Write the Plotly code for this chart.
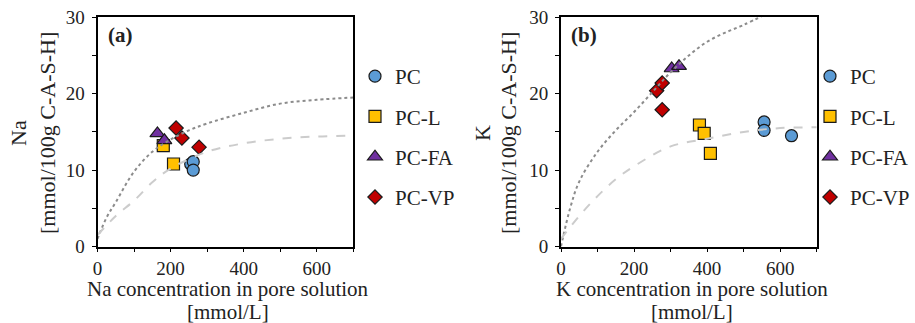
import plotly.graph_objects as go

# ---- measured sorption data: (a) Na, (b) K ----
series = ["PC", "PC-L", "PC-FA", "PC-VP"]
colors = ["#5B9BD5", "#FFC000", "#7030A0", "#C00000"]
symbols = ["circle", "square", "triangle-up", "diamond"]
sizes = [12, 12, 13, 11]

na_x = {
    "PC": [255, 262, 262],
    "PC-L": [180, 208],
    "PC-FA": [164, 183],
    "PC-VP": [215, 231, 278],
}
na_y = {
    "PC": [10.8, 11.1, 10.0],
    "PC-L": [13.2, 10.8],
    "PC-FA": [14.8, 13.9],
    "PC-VP": [15.5, 14.2, 13.0],
}
k_x = {
    "PC": [556, 556, 631],
    "PC-L": [379, 392, 409],
    "PC-FA": [303, 323],
    "PC-VP": [262, 277, 277],
}
k_y = {
    "PC": [16.3, 15.2, 14.5],
    "PC-L": [15.9, 14.8, 12.2],
    "PC-FA": [23.3, 23.6],
    "PC-VP": [20.4, 21.4, 17.9],
}

# ---- fitted isotherm curves ----
na_dot_x = [0, 25, 50, 100, 150, 200, 250, 300, 400, 500, 600, 700]
na_dot_y = [1.0, 3.8, 5.8, 9.8, 12.4, 14.0, 15.2, 16.1, 17.5, 18.7, 19.2, 19.5]
na_dash_x = [0, 50, 100, 150, 200, 300, 400, 500, 600, 700]
na_dash_y = [1.5, 4.0, 6.0, 8.4, 10.2, 12.4, 13.5, 14.1, 14.4, 14.5]
k_dot_x = [0, 25, 50, 100, 150, 200, 250, 300, 350, 400, 450, 500, 560]
k_dot_y = [0.0, 5.0, 8.5, 12.4, 15.2, 17.6, 20.2, 22.8, 25.0, 26.8, 28.0, 29.0, 30.4]
k_dash_x = [0, 50, 100, 150, 200, 300, 400, 500, 600, 700]
k_dash_y = [1.0, 4.0, 6.6, 8.8, 10.5, 13.1, 14.1, 15.0, 15.5, 15.6]

x_ticks = [0, 100, 200, 300, 400, 500, 600, 700]
x_text = ["0", "", "200", "", "400", "", "600", ""]
y_ticks = [0, 5, 10, 15, 20, 25, 30]
y_text = ["0", "", "10", "", "20", "", "30"]

FONT = "Liberation Serif"
TXT = "#222222"

fig = go.Figure()

panels = [
    ("x", "y", "legend", na_x, na_y, na_dot_x, na_dot_y, na_dash_x, na_dash_y),
    ("x2", "y2", "legend2", k_x, k_y, k_dot_x, k_dot_y, k_dash_x, k_dash_y),
]
for xa, ya, leg, px, py, dx, dy, sx, sy in panels:
    for name, col, sym, sz in zip(series, colors, symbols, sizes):
        fig.add_trace(go.Scatter(
            x=px[name], y=py[name], mode="markers", name=name,
            xaxis=xa, yaxis=ya, legend=leg, legendgroup=leg + name,
            marker=dict(color=col, symbol=sym, size=sz,
                        line=dict(color="#1a1a1a", width=1.2)),
        ))
    fig.add_trace(go.Scatter(
        x=dx, y=dy, mode="lines", line_shape="spline", showlegend=False,
        xaxis=xa, yaxis=ya, hoverinfo="skip",
        line=dict(color="#8c8c8c", width=2, dash="dot"),
    ))
    fig.add_trace(go.Scatter(
        x=sx, y=sy, mode="lines", line_shape="spline", showlegend=False,
        xaxis=xa, yaxis=ya, hoverinfo="skip",
        line=dict(color="#cccccc", width=2, dash="dash"),
    ))

W, H = 915, 323
y_dom = [(H - 246.5) / H, (H - 17.3) / H]
axis_common = dict(
    showline=True, linecolor="black", linewidth=1.8, mirror=True,
    ticks="outside", ticklen=4, tickwidth=1.2, tickcolor="black",
    showgrid=False, zeroline=False, automargin=False,
    tickfont=dict(family=FONT, size=19, color=TXT),
)
legend_common = dict(
    yanchor="top",
    font=dict(family=FONT, size=21, color=TXT),
    tracegroupgap=10, bgcolor="rgba(0,0,0,0)", borderwidth=0,
)
fig.update_layout(
    width=W, height=H,
    margin=dict(l=0, r=0, t=0, b=0, pad=0),
    paper_bgcolor="white", plot_bgcolor="white",
    font=dict(family=FONT, color=TXT),
    xaxis=dict(domain=[97.5 / W, 353.3 / W], range=[0, 700], ticklabelstandoff=0,
               tickvals=x_ticks, ticktext=x_text, anchor="y", **axis_common),
    yaxis=dict(domain=y_dom, range=[0, 30], ticklabelstandoff=3,
               tickvals=y_ticks, ticktext=y_text, anchor="x", **axis_common),
    xaxis2=dict(domain=[561 / W, 816.7 / W], range=[0, 700], ticklabelstandoff=0,
                tickvals=x_ticks, ticktext=x_text, anchor="y2", **axis_common),
    yaxis2=dict(domain=y_dom, range=[0, 30], ticklabelstandoff=3,
                tickvals=y_ticks, ticktext=y_text, anchor="x2", **axis_common),
    legend=dict(x=355 / W, xanchor="left", y=(H - 56) / H, **legend_common),
    legend2=dict(x=1.0, xanchor="right", y=(H - 56) / H, **legend_common),
    showlegend=True,
)

def ann(text, x, y, angle=0, size=21, bold=False):
    if bold:
        text = "<b>" + text + "</b>"
    fig.add_annotation(text=text, x=x / W, y=(H - y) / H, xref="paper", yref="paper",
                       showarrow=False, textangle=angle, xanchor="center", yanchor="middle",
                       font=dict(family=FONT, size=size, color=TXT))

# axis titles
ann("Na", 18, 133, -90, size=22)
ann("[mmol/100g C-A-S-H]", 47, 133, -90, size=22)
ann("Na concentration in pore solution", 228, 289)
ann("[mmol/L]", 228, 312)
ann("K", 482, 133, -90, size=22)
ann("[mmol/100g C-A-S-H]", 508, 133, -90, size=22)
ann("K concentration in pore solution", 692, 289)
ann("[mmol/L]", 692, 312)

# panel labels
ann("(a)", 120, 35, size=21, bold=True)
ann("(b)", 584, 35, size=21, bold=True)

fig.write_html("out.html")
